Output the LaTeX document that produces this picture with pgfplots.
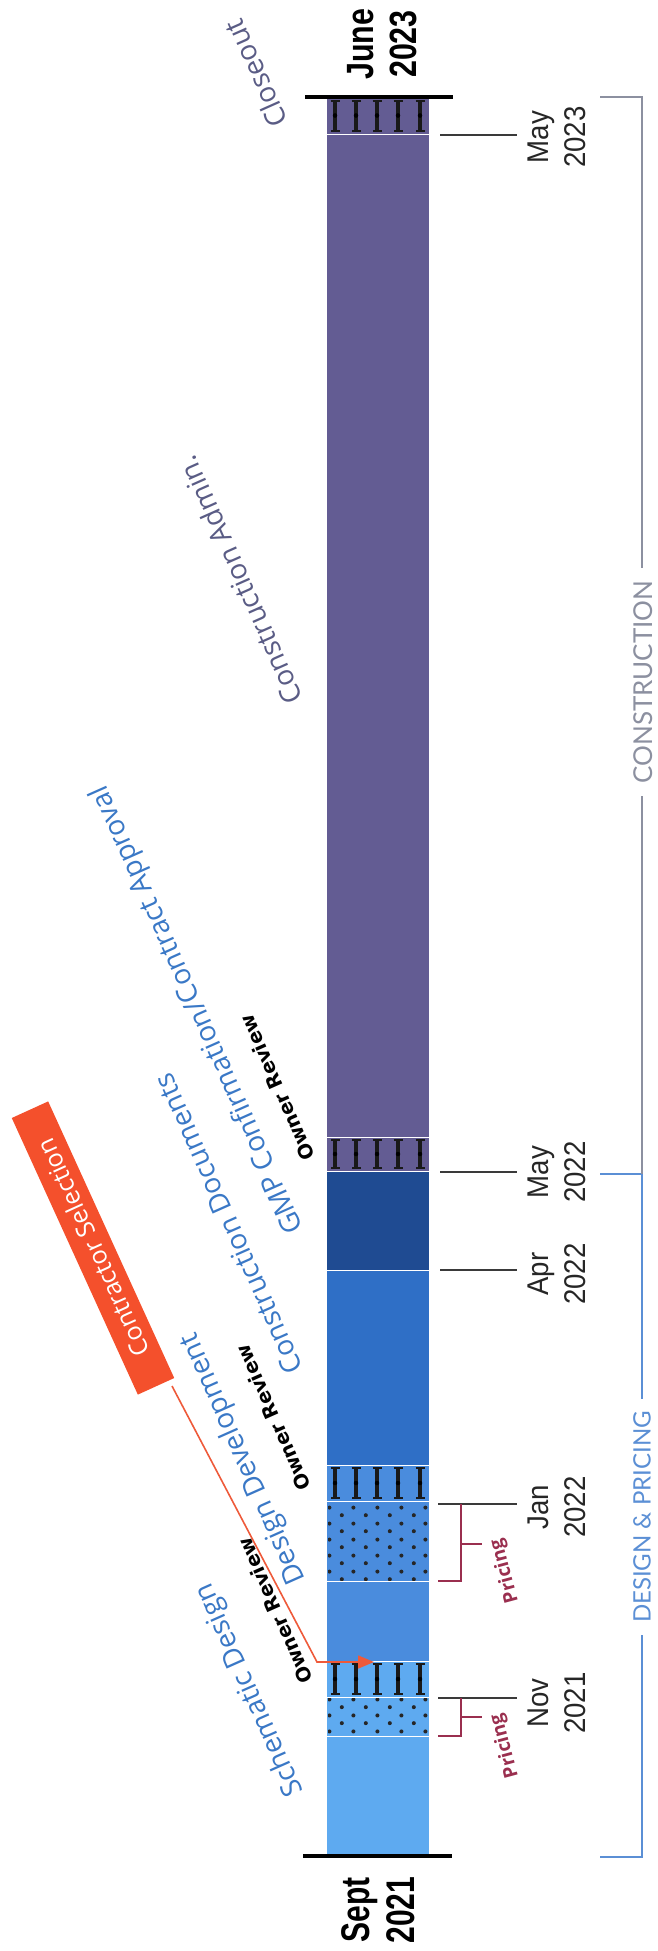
\documentclass[border=0pt]{standalone}
\usepackage{fontspec}
\setmainfont{Liberation Sans}
\newfontfamily\phasefont{Open Sans}
\newfontfamily\capfont{Lato}
\newfontfamily\heavyfont{DejaVu Sans}
\usepackage{pgfplots}
\pgfplotsset{compat=1.18}
\usetikzlibrary{patterns,arrows.meta}
\pgfdeclarepatternformonly{sparsedots}{\pgfqpoint{0pt}{0pt}}{\pgfqpoint{24pt}{16pt}}{\pgfqpoint{24pt}{16pt}}{%
  \pgfpathcircle{\pgfqpoint{6pt}{4pt}}{2.1pt}%
  \pgfpathcircle{\pgfqpoint{18pt}{12pt}}{2.1pt}%
  \pgfusepath{fill}}
\definecolor{sdblue}{HTML}{5EAAF0}
\definecolor{ddblue}{HTML}{4A8CDD}
\definecolor{cdblue}{HTML}{2F6FC6}
\definecolor{gmpblue}{HTML}{1F4B92}
\definecolor{purp}{HTML}{635C93}
\definecolor{lblue}{HTML}{3A78C6}
\definecolor{adminp}{HTML}{5A5C85}
\definecolor{brktblue}{HTML}{5B8FD5}
\definecolor{brktgray}{HTML}{8C90A0}
\definecolor{pricered}{HTML}{9A2F4F}
\definecolor{orangebox}{HTML}{F4502C}
\definecolor{arrowc}{HTML}{EE5A3A}
\definecolor{tickc}{HTML}{3A3A3A}
\newcommand{\seg}[3]{\addplot[fill=#3, draw=white, line width=1pt] coordinates {(327,#1) (429,#1) (429,#2) (327,#2)};}
\newcommand{\dotseg}[2]{\addplot[draw=none, pattern=sparsedots, pattern color=black!85] coordinates {(328,#1) (428,#1) (428,#2) (328,#2)};}
\begin{document}
\begin{tikzpicture}
\begin{axis}[width=657pt, height=1951pt, scale only axis,
  xmin=0, xmax=657, ymin=0, ymax=1951, y dir=reverse,
  hide axis, clip=false]
\addplot[draw=none] coordinates {(0,0) (657,1951)};
% ---- bar segments (top y, bottom y) ----
\seg{97}{134}{purp}
\seg{134}{1137}{purp}
\seg{1137}{1171}{purp}
\seg{1171}{1270}{gmpblue}
\seg{1270}{1465}{cdblue}
\seg{1465}{1501}{ddblue}
\seg{1501}{1581}{ddblue}
\seg{1581}{1661}{ddblue}
\seg{1661}{1697}{sdblue}
\seg{1697}{1736}{sdblue}
\seg{1736}{1856}{sdblue}
% pricing dots
\dotseg{1502}{1580}
\dotseg{1698}{1735}
% owner review hatches (I-beams)
\addplot[only marks, mark=none, error bars/.cd, y dir=both, y explicit,
  error mark=|,
  error bar style={line width=3.5pt, draw=black!90},
  error mark options={line width=2pt, mark size=4.5pt, draw=black!90}]
  coordinates {
  (335,115.5) +- (0,15) (356,115.5) +- (0,15) (377,115.5) +- (0,15) (398,115.5) +- (0,15) (420,115.5) +- (0,15)
  (335,1154) +- (0,14) (356,1154) +- (0,14) (377,1154) +- (0,14) (398,1154) +- (0,14) (420,1154) +- (0,14)
  (335,1483) +- (0,15) (356,1483) +- (0,15) (377,1483) +- (0,15) (398,1483) +- (0,15) (420,1483) +- (0,15)
  (335,1679) +- (0,15) (356,1679) +- (0,15) (377,1679) +- (0,15) (398,1679) +- (0,15) (420,1679) +- (0,15)
  };
% start and end lines
\addplot[black, line width=3.5pt] coordinates {(305,97) (453,97)};
\addplot[black, line width=3.5pt] coordinates {(303,1856) (452,1856)};
% month ticks
\addplot[tickc, line width=2pt] coordinates {(440,135) (517,135)};
\addplot[tickc, line width=2pt] coordinates {(440,1172) (517,1172)};
\addplot[tickc, line width=2pt] coordinates {(440,1270) (517,1270)};
\addplot[tickc, line width=2pt] coordinates {(438,1504) (517,1504)};
\addplot[tickc, line width=2pt] coordinates {(438,1698) (517,1698)};
% pricing brackets
\addplot[pricered, line width=2pt] coordinates {(438,1581) (461,1581) (461,1504)};
\addplot[pricered, line width=2pt] coordinates {(461,1544) (482,1544)};
\addplot[pricered, line width=2pt] coordinates {(438,1736) (461,1736) (461,1698)};
\addplot[pricered, line width=2pt] coordinates {(461,1717) (482,1717)};
% phase brackets
\addplot[brktblue, line width=2.5pt] coordinates {(600,1857) (642,1857) (642,1174) (600,1174)};
\addplot[brktgray, line width=2pt] coordinates {(642,1174) (642,97) (600,97)};
% contractor selection arrow
\addplot[arrowc, line width=1.6pt, -{Triangle[length=16pt,width=13pt]}] coordinates {(172,1386) (317,1662) (374,1662)};
% ---- text ----
\node[fill=white, rotate=90, inner xsep=12pt, inner ysep=1pt, text=brktblue, font=\capfont\fontsize{24}{28}\selectfont] at (axis cs:642,1517) {DESIGN \& PRICING};
\node[fill=white, rotate=90, inner xsep=12pt, inner ysep=1pt, text=brktgray, font=\capfont\fontsize{26}{30}\selectfont] at (axis cs:643,682) {CONSTRUCTION};
\node[rotate=90, xscale=0.92, align=center, text=black!85, font=\fontsize{30}{37}\selectfont] at (axis cs:557,137) {May\\2023};
\node[rotate=90, xscale=0.92, align=center, text=black!85, font=\fontsize{30}{37}\selectfont] at (axis cs:557,1172) {May\\2022};
\node[rotate=90, xscale=0.92, align=center, text=black!85, font=\fontsize{30}{37}\selectfont] at (axis cs:557,1274) {Apr\\2022};
\node[rotate=90, xscale=0.92, align=center, text=black!85, font=\fontsize{30}{37}\selectfont] at (axis cs:557,1507) {Jan\\2022};
\node[rotate=90, xscale=0.92, align=center, text=black!85, font=\fontsize{30}{37}\selectfont] at (axis cs:557,1703) {Nov\\2021};
\node[rotate=90, xscale=0.8, align=center, text=black, font=\bfseries\fontsize{38}{43}\selectfont] at (axis cs:382,44) {June\\2023};
\node[rotate=90, xscale=0.75, align=center, text=black, font=\bfseries\fontsize{40}{45}\selectfont] at (axis cs:378,1910) {Sept\\2021};
\node[rotate=105, text=pricered, font=\phasefont\bfseries\fontsize{19}{22}\selectfont] at (axis cs:505,1571) {Pricing};
\node[rotate=105, text=pricered, font=\phasefont\bfseries\fontsize{19}{22}\selectfont] at (axis cs:505,1746) {Pricing};
\node[anchor=base west, rotate=114, text=lblue, font=\phasefont\fontsize{28}{32}\selectfont] at (axis cs:305,1795) {Schematic Design};
\node[anchor=base west, rotate=114, text=lblue, font=\phasefont\fontsize{28}{32}\selectfont] at (axis cs:307,1583) {Design Development};
\node[anchor=base west, rotate=114, text=lblue, font=\phasefont\fontsize{28}{32}\selectfont] at (axis cs:305,1372) {Construction Documents};
\node[anchor=base west, rotate=114, text=lblue, font=\phasefont\fontsize{28}{32}\selectfont] at (axis cs:305,1232) {GMP Confirmation/Contract Approval};
\node[anchor=base west, rotate=114, text=adminp, font=\phasefont\fontsize{28}{32}\selectfont] at (axis cs:305,702) {Construction Admin.};
\node[anchor=base west, rotate=114, text=adminp, font=\phasefont\fontsize{28}{32}\selectfont] at (axis cs:290,125) {Closeout};
\node[anchor=base west, rotate=114, text=black, font=\heavyfont\bfseries\fontsize{19.5}{23}\selectfont] at (axis cs:315,1683) {Owner Review};
\node[anchor=base west, rotate=114, text=black, font=\heavyfont\bfseries\fontsize{19.5}{23}\selectfont] at (axis cs:313,1490) {Owner Review};
\node[anchor=base west, rotate=114, text=black, font=\heavyfont\bfseries\fontsize{19.5}{23}\selectfont] at (axis cs:317,1160) {Owner Review};
\node[rotate=114.5, fill=orangebox, text=white, minimum width=304pt, minimum height=40pt, inner sep=0pt, font=\phasefont\fontsize{25}{28}\selectfont] at (axis cs:93,1248) {Contractor Selection};
\end{axis}
\end{tikzpicture}
\end{document}
